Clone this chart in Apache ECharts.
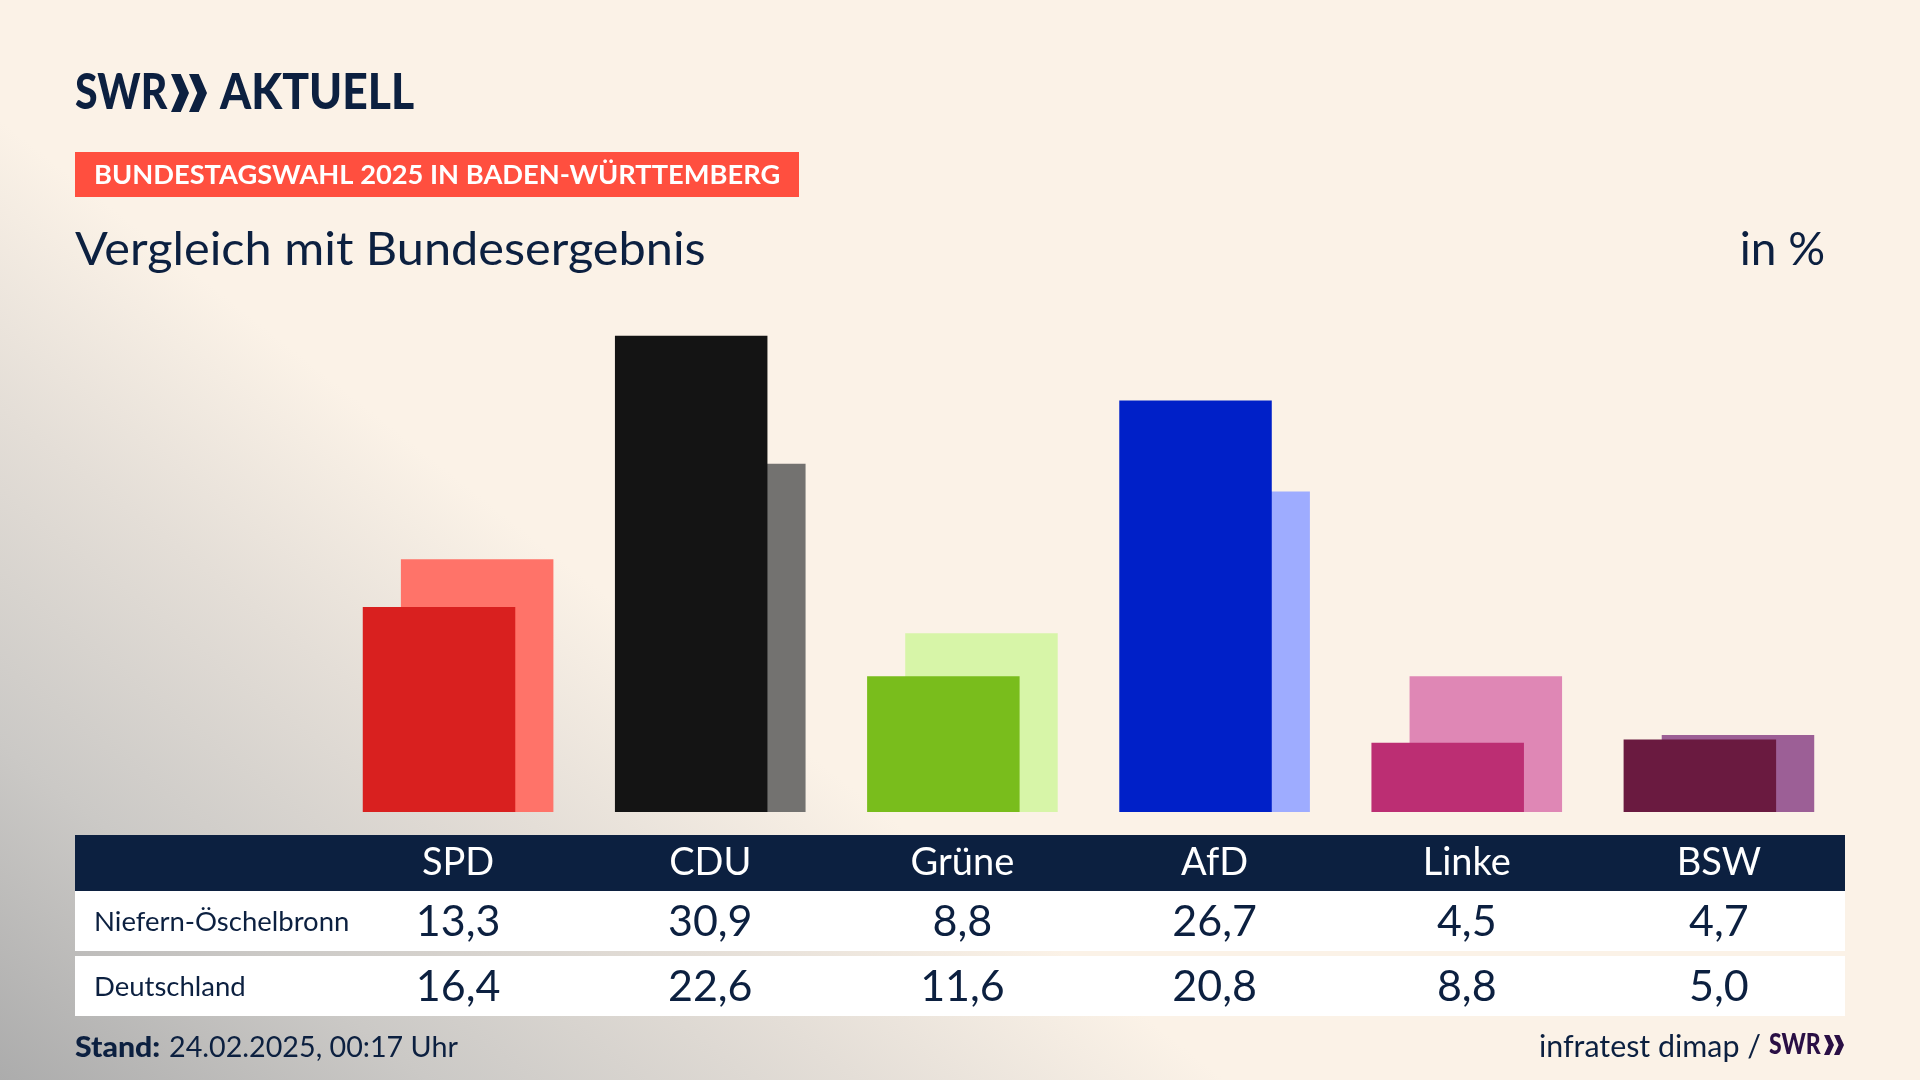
<!DOCTYPE html>
<html>
<head>
<meta charset="utf-8">
<title>Bundestagswahl 2025 - Vergleich mit Bundesergebnis</title>
<style>
	* { padding: 0; margin: 0; }
	#main { width: 1920px; height: 1080px; }
</style>
</head>
<body>
<div id="main"></div>
<script src="https://cdn.jsdelivr.net/npm/echarts@6/dist/echarts.min.js"></script>
<script>
	var parties = ['SPD', 'CDU', 'Grüne', 'AfD', 'Linke', 'BSW'];
	var rowNames = ['Niefern-Öschelbronn', 'Deutschland'];
	var localValues = [13.3, 30.9, 8.8, 26.7, 4.5, 4.7];
	var federalValues = [16.4, 22.6, 11.6, 20.8, 8.8, 5.0];
	var localColors = ['#d9201f', '#141414', '#79bd1c', '#0020c8', '#bc2e73', '#6a1a40'];
	var federalColors = ['#ff7369', '#737270', '#d7f5a8', '#9eacff', '#df87b5', '#9c5f96'];

	var navy = '#0c2040';
	var font = 'Lato, "Noto Sans", sans-serif';

	function fmt(v) {
		return v.toFixed(1).replace('.', ',');
	}

	function colored(values, colors) {
		return values.map(function (v, i) {
			return { value: v, itemStyle: { color: colors[i] } };
		});
	}

	// Text helper for everything around the chart
	function txt(text, x, y, size, color, opts) {
		opts = opts || {};
		return {
			type: 'text',
			x: x,
			y: y,
			scaleX: opts.scaleX || 1,
			z: 5,
			style: {
				text: text,
				fill: color,
				font: (opts.weight || 'normal') + ' ' + size + 'px ' + font,
				textAlign: opts.align || 'left',
				textVerticalAlign: 'middle'
			}
		};
	}

	function rect(x, y, w, h, color) {
		return { type: 'rect', z: -10, shape: { x: x, y: y, width: w, height: h }, style: { fill: color } };
	}

	// the double arrow from the SWR logo
	function chevrons(x, y, w, h, color) {
		var t = w * 0.27;
		var tip = w * 0.23;
		var gap = w * 0.5;
		return [0, 1].map(function (n) {
			var l = x + n * gap;
			return {
				type: 'polygon',
				z: 5,
				shape: { points: [[l, y], [l + t, y], [l + t + tip, y + h / 2], [l + t, y + h], [l, y + h], [l + tip, y + h / 2]] },
				style: { fill: color }
			};
		});
	}

	function tableAxis(labels, offset, size, color) {
		return {
			type: 'category',
			position: 'bottom',
			offset: offset,
			data: labels,
			axisLine: { show: false },
			axisTick: { show: false },
			axisLabel: {
				interval: 0,
				margin: 0,
				color: color,
				fontFamily: font,
				fontSize: size,
				verticalAlign: 'middle'
			}
		};
	}

	var graphics = [
		rect(75, 835, 1770, 56, navy),
		rect(75, 891, 1770, 60, '#ffffff'),
		rect(75, 956, 1770, 60, '#ffffff'),
		rect(75, 152, 724, 45, '#ff4f3f'),
		txt('SWR', 75, 93, 50, navy, { weight: 900, scaleX: 0.82 }),
		txt('AKTUELL', 220, 93, 50, navy, { weight: 900, scaleX: 0.89 }),
		txt('BUNDESTAGSWAHL 2025 IN BADEN-WÜRTTEMBERG', 94, 175, 27, '#ffffff', { weight: 'bold', scaleX: 1.01 }),
		txt('Vergleich mit Bundesergebnis', 75, 250, 46, navy, { scaleX: 1.058 }),
		txt('in %', 1825, 250, 46, navy, { align: 'right' }),
		txt(rowNames[0], 94, 922, 27.5, navy),
		txt(rowNames[1], 94, 987, 27.5, navy),
		txt('Stand:', 75, 1048, 28, navy, { weight: 900, scaleX: 1.08 }),
		txt('24.02.2025, 00:17 Uhr', 169, 1048, 28.7, navy),
		txt('infratest dimap /', 1761, 1047, 30.4, navy, { align: 'right' }),
		txt('SWR', 1769, 1045, 28, '#2a0f45', { weight: 900, scaleX: 0.82 })
	].concat(chevrons(171, 74, 36, 38, navy), chevrons(1824, 1035, 20, 20, '#2a0f45'));

	var myChart = echarts.init(document.getElementById('main'));
	myChart.setOption({
		animation: false,
		backgroundColor: new echarts.graphic.LinearGradient(0, 1080, 466, 485, [
			{ offset: 0, color: '#acacac' },
			{ offset: 0.35, color: '#cbc9c6' },
			{ offset: 0.7, color: '#e4ded7' },
			{ offset: 1, color: '#fbf2e7' }
		], true),
		graphic: { elements: graphics },
		grid: { left: 332, right: 75, top: 272.5, bottom: 268 },
		xAxis: [
			{
				type: 'category',
				data: parties,
				axisLine: { show: false },
				axisTick: { show: false },
				axisLabel: { show: false }
			},
			tableAxis(parties, 51, 38, '#ffffff'),
			tableAxis(localValues.map(fmt), 110, 43, navy),
			tableAxis(federalValues.map(fmt), 175, 43, navy)
		],
		yAxis: { type: 'value', min: 0, max: 35, show: false, splitLine: { show: false } },
		series: [
			{
				name: rowNames[0],
				type: 'bar',
				z: 3,
				barWidth: 152.5,
				barGap: '-75%',
				data: colored(localValues, localColors)
			},
			{
				name: rowNames[1],
				type: 'bar',
				z: 2,
				barWidth: 152.5,
				barGap: '-75%',
				data: colored(federalValues, federalColors)
			}
		]
	});
</script>
</body>
</html>
